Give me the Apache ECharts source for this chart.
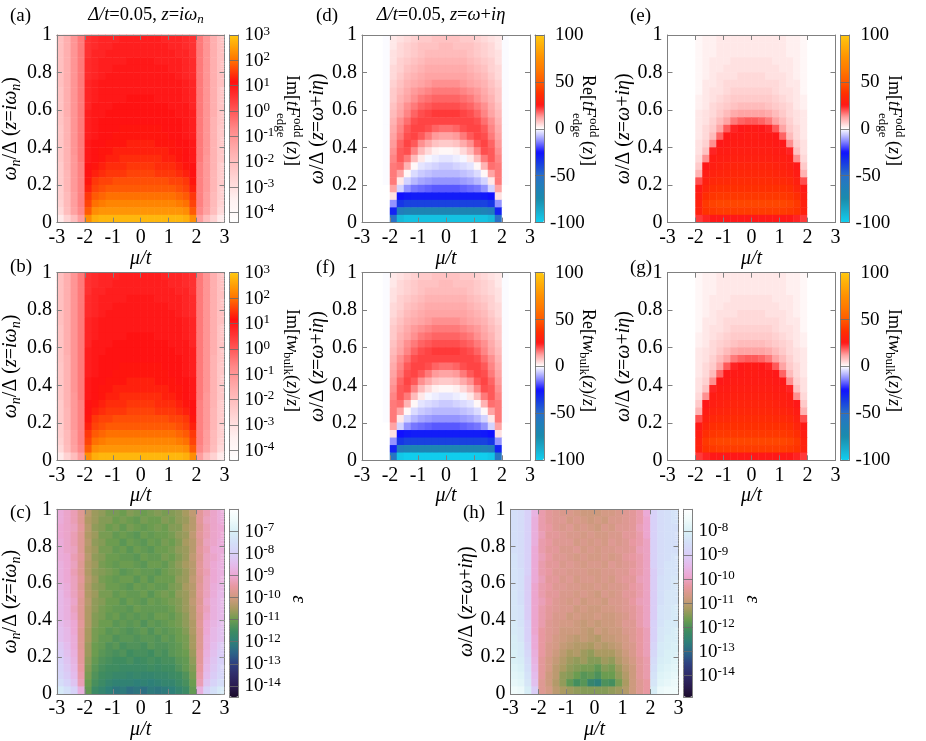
<!DOCTYPE html>
<html>
<head>
<meta charset="utf-8">
<title>chart</title>
<script src="https://cdn.jsdelivr.net/npm/echarts@6/dist/echarts.min.js"></script>
<style>
  html, body { margin: 0; padding: 0; background: #fff; }
  #main { width: 926px; height: 741px; }
</style>
</head>
<body>
<div id="main"></div>
<script>
// cell centres of the heatmaps
const muCells = [-2.875,-2.625,-2.375,-2.125,-1.875,-1.625,-1.375,-1.125,-0.875,-0.625,-0.375,-0.125,0.125,0.375,0.625,0.875,1.125,1.375,1.625,1.875,2.125,2.375,2.625,2.875]
const omegaCells = [0.02,0.06,0.10,0.14,0.18,0.22,0.26,0.30,0.34,0.38,0.42,0.46,0.50,0.54,0.58,0.62,0.66,0.70,0.74,0.78,0.82,0.86,0.90,0.94,0.98]

// every grid below is written top row (omega=0.98) first, like the picture
// (a) log10 Im[tF_edge]
const imFEdge = [
[-2.1,-1.6,-1,-.5,.6,.7,.8,.8,.8,.9,.9,.9,.9,.9,.9,.8,.8,.8,.7,.6,-.5,-1,-1.6,-2.1],
[-2.1,-1.6,-1,-.5,.6,.7,.8,.8,.9,.9,.9,.9,.9,.9,.9,.9,.8,.8,.7,.6,-.5,-1,-1.6,-2.1],
[-2.1,-1.6,-1,-.5,.6,.8,.8,.9,.9,.9,.9,.9,.9,.9,.9,.9,.9,.8,.8,.6,-.5,-1,-1.6,-2.1],
[-2.1,-1.6,-1,-.5,.7,.8,.9,.9,.9,.9,1,1,1,1,.9,.9,.9,.9,.8,.7,-.5,-1,-1.6,-2.1],
[-2.1,-1.6,-1,-.5,.7,.8,.9,.9,1,1,1,1,1,1,1,1,.9,.9,.8,.7,-.5,-1,-1.6,-2.1],
[-2.1,-1.6,-1,-.5,.7,.8,.9,1,1,1,1,1,1,1,1,1,1,.9,.8,.7,-.5,-1,-1.6,-2.1],
[-2.1,-1.6,-1,-.5,.8,.9,1,1,1,1,1,1,1,1,1,1,1,1,.9,.8,-.5,-1,-1.6,-2.1],
[-2.2,-1.6,-1,-.5,.8,.9,1,1,1,1,1,1,1,1,1,1,1,1,.9,.8,-.5,-1,-1.6,-2.2],
[-2.2,-1.6,-1,-.5,.8,.9,1,1,1,1,1.1,1.1,1.1,1.1,1,1,1,1,.9,.8,-.5,-1,-1.6,-2.2],
[-2.2,-1.6,-1,-.5,.8,1,1,1,1.1,1.1,1.1,1.1,1.1,1.1,1.1,1.1,1,1,1,.8,-.5,-1,-1.6,-2.2],
[-2.2,-1.6,-1,-.5,.9,1,1,1.1,1.1,1.1,1.1,1.1,1.1,1.1,1.1,1.1,1.1,1,1,.9,-.5,-1,-1.6,-2.2],
[-2.2,-1.7,-1,-.5,.9,1,1.1,1.1,1.1,1.1,1.1,1.1,1.1,1.1,1.1,1.1,1.1,1.1,1,.9,-.5,-1,-1.7,-2.2],
[-2.3,-1.7,-1,-.5,.9,1,1.1,1.1,1.1,1.2,1.2,1.2,1.2,1.2,1.2,1.1,1.1,1.1,1,.9,-.5,-1,-1.7,-2.3],
[-2.3,-1.7,-1,-.5,.9,1,1.1,1.1,1.2,1.2,1.2,1.2,1.2,1.2,1.2,1.2,1.1,1.1,1,.9,-.5,-1,-1.7,-2.3],
[-2.3,-1.7,-1,-.5,1,1.1,1.1,1.2,1.2,1.2,1.3,1.3,1.3,1.3,1.2,1.2,1.2,1.1,1.1,1,-.5,-1,-1.7,-2.3],
[-2.3,-1.7,-1,-.5,1,1.1,1.2,1.2,1.3,1.3,1.3,1.3,1.3,1.3,1.3,1.3,1.2,1.2,1.1,1,-.5,-1,-1.7,-2.3],
[-2.3,-1.7,-1.1,-.5,1,1.1,1.2,1.3,1.3,1.4,1.4,1.4,1.4,1.4,1.4,1.3,1.3,1.2,1.1,1,-.5,-1.1,-1.7,-2.3],
[-2.4,-1.7,-1.1,-.6,1.1,1.2,1.3,1.4,1.4,1.4,1.5,1.5,1.5,1.5,1.4,1.4,1.4,1.3,1.2,1.1,-.6,-1.1,-1.7,-2.4],
[-2.4,-1.8,-1.1,-.6,1.1,1.3,1.4,1.5,1.5,1.5,1.6,1.6,1.6,1.6,1.5,1.5,1.5,1.4,1.3,1.1,-.6,-1.1,-1.8,-2.4],
[-2.4,-1.8,-1.1,-.6,1.2,1.5,1.6,1.6,1.7,1.7,1.7,1.7,1.7,1.7,1.7,1.7,1.6,1.6,1.5,1.2,-.6,-1.1,-1.8,-2.4],
[-2.5,-1.8,-1.1,-.6,1.3,1.6,1.7,1.8,1.8,1.8,1.8,1.8,1.8,1.8,1.8,1.8,1.8,1.7,1.6,1.3,-.6,-1.1,-1.8,-2.5],
[-2.5,-1.9,-1.2,-.6,1.5,1.8,1.9,2,2,2,2,2,2,2,2,2,2,1.9,1.8,1.5,-.6,-1.2,-1.9,-2.5],
[-2.6,-1.9,-1.2,-.6,1.6,2,2.1,2.2,2.2,2.2,2.2,2.2,2.2,2.2,2.2,2.2,2.2,2.1,2,1.6,-.6,-1.2,-1.9,-2.6],
[-2.8,-2,-1.3,-.7,1.8,2.3,2.4,2.4,2.4,2.4,2.4,2.4,2.4,2.4,2.4,2.4,2.4,2.4,2.3,1.8,-.7,-1.3,-2,-2.8],
[-3.3,-2.6,-2,-1.2,2.3,2.7,2.8,2.8,2.8,2.8,2.8,2.8,2.8,2.8,2.8,2.8,2.8,2.8,2.7,2.3,-1.2,-2,-2.6,-3.3]
]
// (b) reads the same as (a) at this resolution
const imWBulk = imFEdge

// (d) Re[tF_edge]
const reFEdge = [
[0,0,0,-.5,3,4,5,6,7,7,8,8,8,8,7,7,6,5,4,3,-.5,0,0,0],
[0,0,0,-.5,3,5,6,7,8,8,8,9,9,8,8,8,7,6,5,3,-.5,0,0,0],
[0,0,0,-.5,4,5,6,7,8,9,9,9,9,9,9,8,7,6,5,4,-.5,0,0,0],
[0,0,0,-.5,4,6,7,8,9,10,10,10,10,10,10,9,8,7,6,4,-.5,0,0,0],
[0,0,0,-.5,5,6,8,9,10,11,11,11,11,11,11,10,9,8,6,5,-.5,0,0,0],
[0,0,0,-.5,5,7,9,10,11,12,12,12,12,12,12,11,10,9,7,5,-.5,0,0,0],
[0,0,0,-.5,6,8,10,11,12,13,14,14,14,14,13,12,11,10,8,6,-.5,0,0,0],
[0,0,0,-.5,7,9,11,13,14,15,16,16,16,16,15,14,13,11,9,7,-.5,0,0,0],
[0,0,0,-.5,7,10,12,14,16,17,18,18,18,18,17,16,14,12,10,7,-.5,0,0,0],
[0,0,0,-.5,8,11,14,16,18,19,20,20,20,20,19,18,16,14,11,8,-.5,0,0,0],
[0,0,0,-.5,9,12,15,18,20,21,22,22,22,22,21,20,18,15,12,9,-.5,0,0,0],
[0,0,0,-.5,10,14,17,20,21,21,21,21,21,21,21,21,20,17,14,10,-.5,0,0,0],
[0,0,0,-.5,11,15,19,21,21,20,18,17,17,18,20,21,21,19,15,11,-.5,0,0,0],
[0,0,0,-.5,12,16,20,21,19,16,13,12,12,13,16,19,21,20,16,12,-.5,0,0,0],
[0,0,0,-.5,13,18,21,19,14,11,8,7,7,8,11,14,19,21,18,13,-.5,0,0,0],
[0,0,0,-.5,14,19,20,15,9,5,2,1,1,2,5,9,15,20,19,14,-.5,0,0,0],
[0,0,0,-.5,15,19,16,9,3,-1,-2,-3,-3,-2,-1,3,9,16,19,15,-.5,0,0,0],
[0,0,0,-.5,16,17,10,1,-3,-4,-5,-6,-6,-5,-4,-3,1,10,17,16,-.5,0,0,0],
[0,0,0,-.5,16,12,1,-4,-6,-7,-8,-8,-8,-8,-7,-6,-4,1,12,16,-.5,0,0,0],
[0,0,0,-.5,16,3,-5,-8,-10,-11,-12,-12,-12,-12,-11,-10,-8,-5,3,16,-.5,0,0,0],
[0,0,0,0,12,-5,-12,-15,-16,-17,-18,-18,-18,-18,-17,-16,-15,-12,-5,12,0,0,0,0],
[0,0,0,0,4,-25,-27,-28,-28,-28,-28,-28,-28,-28,-28,-28,-28,-27,-25,4,0,0,0,0],
[0,0,0,0,-12,-35,-38,-38,-38,-38,-38,-38,-38,-38,-38,-38,-38,-38,-35,-12,0,0,0,0],
[0,0,0,0,-30,-60,-65,-68,-68,-68,-68,-68,-68,-68,-68,-68,-68,-65,-60,-30,0,0,0,0],
[0,0,0,0,-50,-92,-95,-95,-95,-95,-95,-95,-95,-95,-95,-95,-95,-95,-92,-50,0,0,0,0]
]
// (f) same as (d) except the lowest row, which runs a little further to cyan
const reWBulk = [...reFEdge.slice(0, 24), [0,0,0,0,-55,-97,-99,-99,-99,-99,-99,-99,-99,-99,-99,-99,-99,-99,-97,-55,0,0,0,0]]

// (e) Im[tF_edge]
const imFEdgeReal = [
[0,0,0,0,1,2,2,3,3,3,3,3,3,3,3,3,3,2,2,1,0,0,0,0],
[0,0,0,0,1,2,2,3,3,3,3,3,3,3,3,3,3,2,2,1,0,0,0,0],
[0,0,0,0,1,2,2,3,3,3,3,3,3,3,3,3,3,2,2,1,0,0,0,0],
[0,0,0,0,1,2,3,3,3,4,4,4,4,4,4,3,3,3,2,1,0,0,0,0],
[0,0,0,0,1,2,3,3,4,4,4,4,4,4,4,4,3,3,2,1,0,0,0,0],
[0,0,0,0,1,2,3,4,4,4,5,5,5,5,4,4,4,3,2,1,0,0,0,0],
[0,0,0,0,1,3,3,4,5,5,5,5,5,5,5,5,4,3,3,1,0,0,0,0],
[0,0,0,0,1,3,4,4,5,6,6,6,6,6,6,5,4,4,3,1,0,0,0,0],
[0,0,0,0,2,3,4,5,6,7,7,7,7,7,7,6,5,4,3,2,0,0,0,0],
[0,0,0,0,2,3,5,6,7,8,9,9,9,9,8,7,6,5,3,2,0,0,0,0],
[0,0,0,0,3,4,5,7,9,11,12,12,12,12,11,9,7,5,4,3,0,0,0,0],
[0,0,0,0,3,4,6,9,12,16,18,19,19,18,16,12,9,6,4,3,0,0,0,0],
[0,0,0,0,3,5,7,12,19,24,25,26,26,25,24,19,12,7,5,3,0,0,0,0],
[0,0,0,0,3,5,9,18,25,26,26,27,27,26,26,25,18,9,5,3,0,0,0,0],
[0,0,0,0,4,6,14,25,26,27,27,27,27,27,27,26,25,14,6,4,0,0,0,0],
[0,0,0,0,4,8,24,27,27,28,28,28,28,28,28,27,27,24,8,4,0,0,0,0],
[0,0,0,0,5,14,27,28,28,29,29,29,29,29,29,28,28,27,14,5,0,0,0,0],
[0,0,0,0,7,25,28,29,30,31,31,31,31,31,31,30,29,28,25,7,0,0,0,0],
[0,0,0,0,10,27,30,31,32,33,33,33,33,33,33,32,31,30,27,10,0,0,0,0],
[0,0,0,0,20,29,33,34,34,35,35,35,35,35,35,34,34,33,29,20,0,0,0,0],
[0,0,0,0,26,32,36,37,37,37,37,37,37,37,37,37,37,36,32,26,0,0,0,0],
[0,0,0,0,28,36,39,40,40,40,40,40,40,40,40,40,40,39,36,28,0,0,0,0],
[0,0,0,0,30,40,43,44,44,44,44,44,44,44,44,44,44,43,40,30,0,0,0,0],
[0,0,0,0,30,38,40,41,41,41,41,41,41,41,41,41,41,40,38,30,0,0,0,0],
[0,0,0,0,22,24,25,25,25,25,25,25,25,25,25,25,25,25,24,22,0,0,0,0]
]
// (g) reads the same as (e)
const imWBulkReal = imFEdgeReal

// (c) log10 of the error, z=i omega_n
const errMatsubara = [
[-8.9,-9.1,-9.3,-9.7,-10.3,-10.6,-10.7,-10.9,-10.9,-11,-10.8,-10.9,-11,-10.9,-10.8,-10.9,-10.8,-10.7,-10.5,-10.2,-9.6,-9.3,-9.1,-8.9],
[-8.9,-9.1,-9.3,-9.7,-10.4,-10.6,-10.8,-10.8,-11,-10.9,-11,-11.1,-10.9,-11,-11,-10.8,-10.9,-10.7,-10.6,-10.3,-9.6,-9.2,-9.1,-8.9],
[-9,-9.1,-9.2,-9.6,-10.3,-10.7,-10.8,-11,-10.9,-11.1,-10.9,-11,-11.1,-11,-10.9,-11,-10.8,-10.8,-10.5,-10.3,-9.7,-9.3,-9.1,-9],
[-9,-9.1,-9.3,-9.7,-10.4,-10.6,-10.9,-10.9,-11.1,-11,-11.1,-11.2,-11,-11.1,-11,-11,-10.9,-10.7,-10.6,-10.2,-9.6,-9.3,-9.1,-9],
[-8.9,-9.1,-9.3,-9.7,-10.3,-10.7,-10.8,-11,-11,-11.2,-11,-11.1,-11.2,-11,-11.1,-10.9,-11,-10.8,-10.5,-10.3,-9.7,-9.2,-9.1,-8.9],
[-8.9,-9.1,-9.2,-9.7,-10.4,-10.6,-10.9,-10.9,-11.1,-11,-11.2,-11,-11.1,-11.2,-11,-11,-10.9,-10.7,-10.6,-10.3,-9.6,-9.3,-9,-8.9],
[-8.9,-9,-9.3,-9.6,-10.3,-10.7,-10.8,-11,-11,-11.1,-11.1,-11.2,-11,-11.1,-11.1,-10.9,-11,-10.8,-10.6,-10.2,-9.7,-9.2,-9.1,-8.9],
[-8.8,-9,-9.2,-9.7,-10.4,-10.6,-10.9,-11,-11.1,-11,-11,-11.1,-11.2,-11,-11,-11.1,-10.9,-10.7,-10.5,-10.3,-9.6,-9.2,-9,-8.8],
[-8.8,-9,-9.3,-9.7,-10.4,-10.7,-10.8,-10.9,-11,-11.2,-11.1,-11,-11.1,-11.1,-11.2,-11,-10.9,-10.8,-10.6,-10.3,-9.6,-9.3,-9,-8.8],
[-8.8,-9,-9.2,-9.6,-10.3,-10.6,-10.9,-11,-11.1,-11,-11,-11.2,-11,-11.2,-11,-11,-11,-10.7,-10.6,-10.2,-9.7,-9.2,-9,-8.8],
[-8.7,-8.9,-9.2,-9.7,-10.4,-10.7,-10.8,-11,-11,-11.1,-11.2,-11,-11.1,-11,-11.1,-11.1,-10.9,-10.8,-10.5,-10.3,-9.6,-9.2,-8.9,-8.7],
[-8.6,-8.9,-9.2,-9.6,-10.4,-10.6,-10.9,-10.9,-11.1,-11,-11.1,-11.1,-11,-11.2,-11,-10.9,-11,-10.7,-10.6,-10.3,-9.6,-9.2,-8.9,-8.6],
[-8.6,-8.8,-9.1,-9.7,-10.3,-10.7,-10.8,-11,-11,-11.2,-11,-11.1,-11.2,-11,-11.1,-11,-10.9,-10.8,-10.6,-10.2,-9.7,-9.1,-8.8,-8.6],
[-8.6,-8.8,-9.2,-9.7,-10.4,-10.7,-10.9,-11,-11.1,-11.1,-11.2,-11,-11.1,-11.1,-11.1,-11.1,-11,-10.8,-10.6,-10.3,-9.6,-9.2,-8.8,-8.6],
[-8.6,-8.8,-9.1,-9.7,-10.4,-10.8,-10.9,-11.1,-11,-11.2,-11.1,-11.2,-11.1,-11.2,-11,-11,-11.1,-10.9,-10.7,-10.3,-9.7,-9.1,-8.8,-8.6],
[-8.5,-8.7,-9,-9.6,-10.4,-10.8,-11,-11,-11.2,-11.1,-11.2,-11.1,-11.3,-11.1,-11.2,-11.1,-11,-10.9,-10.7,-10.4,-9.6,-9,-8.7,-8.5],
[-8.4,-8.6,-9,-9.7,-10.5,-10.9,-11,-11.2,-11.1,-11.2,-11.3,-11.2,-11.1,-11.3,-11.1,-11.2,-11.1,-11,-10.8,-10.4,-9.7,-9,-8.6,-8.4],
[-8.4,-8.6,-8.9,-9.7,-10.5,-10.9,-11.1,-11.1,-11.3,-11.2,-11.2,-11.3,-11.2,-11.2,-11.3,-11.1,-11.2,-11,-10.9,-10.5,-9.7,-8.9,-8.6,-8.4],
[-8.2,-8.5,-8.9,-9.7,-10.6,-11,-11.1,-11.3,-11.2,-11.4,-11.3,-11.3,-11.4,-11.2,-11.3,-11.3,-11.2,-11.1,-10.9,-10.5,-9.7,-8.9,-8.5,-8.2],
[-8.1,-8.4,-8.8,-9.6,-10.6,-11,-11.2,-11.3,-11.4,-11.3,-11.5,-11.4,-11.4,-11.5,-11.3,-11.4,-11.2,-11.1,-11,-10.6,-9.6,-8.8,-8.4,-8.1],
[-8,-8.3,-8.7,-9.6,-10.7,-11.1,-11.3,-11.4,-11.5,-11.5,-11.4,-11.6,-11.5,-11.4,-11.5,-11.4,-11.4,-11.2,-11.1,-10.7,-9.6,-8.7,-8.3,-8],
[-7.9,-8.2,-8.6,-9.5,-10.8,-11.2,-11.4,-11.5,-11.5,-11.6,-11.6,-11.6,-11.6,-11.5,-11.6,-11.5,-11.5,-11.3,-11.1,-10.8,-9.5,-8.6,-8.2,-7.9],
[-7.8,-8.1,-8.5,-9.4,-10.9,-11.3,-11.5,-11.6,-11.7,-11.7,-11.8,-11.7,-11.8,-11.8,-11.7,-11.7,-11.6,-11.5,-11.3,-10.9,-9.4,-8.5,-8.1,-7.8],
[-7.6,-7.9,-8.3,-9.3,-11,-11.4,-11.6,-11.8,-11.9,-11.9,-11.9,-12,-11.9,-12,-11.9,-11.8,-11.8,-11.6,-11.4,-11,-9.3,-8.3,-7.9,-7.6],
[-7.2,-7.5,-7.9,-8.8,-11.1,-11.6,-11.8,-12,-12.2,-12.1,-12.3,-12.2,-12.3,-12.1,-12.2,-12.1,-12,-11.8,-11.6,-11.1,-8.8,-7.9,-7.5,-7.2]
]

// (h) log10 of the error, z=omega+i eta
const errReal = [
[-8.5,-8.6,-8.9,-9.6,-10.2,-10.4,-10.5,-10.6,-10.6,-10.7,-10.8,-10.8,-10.8,-10.7,-10.7,-10.6,-10.5,-10.4,-10.2,-9.8,-8.9,-8.6,-8.5,-8.4],
[-8.5,-8.6,-8.9,-9.7,-10.2,-10.4,-10.5,-10.5,-10.7,-10.6,-10.7,-10.8,-10.7,-10.8,-10.6,-10.6,-10.5,-10.4,-10.2,-9.9,-8.9,-8.6,-8.5,-8.4],
[-8.5,-8.6,-8.9,-9.7,-10.2,-10.3,-10.5,-10.6,-10.5,-10.7,-10.6,-10.7,-10.8,-10.6,-10.7,-10.5,-10.5,-10.4,-10.1,-9.9,-8.9,-8.6,-8.5,-8.5],
[-8.5,-8.6,-8.9,-9.7,-10.1,-10.4,-10.4,-10.5,-10.6,-10.6,-10.7,-10.6,-10.7,-10.7,-10.6,-10.6,-10.4,-10.4,-10.2,-9.9,-8.9,-8.6,-8.5,-8.5],
[-8.5,-8.6,-8.9,-9.7,-10.2,-10.3,-10.5,-10.5,-10.5,-10.7,-10.6,-10.7,-10.6,-10.7,-10.5,-10.6,-10.5,-10.3,-10.2,-10,-8.9,-8.6,-8.5,-8.5],
[-8.5,-8.6,-8.9,-9.8,-10.2,-10.4,-10.4,-10.6,-10.6,-10.5,-10.7,-10.6,-10.7,-10.6,-10.6,-10.5,-10.5,-10.4,-10.1,-10,-8.9,-8.6,-8.5,-8.5],
[-8.4,-8.6,-8.9,-9.8,-10.1,-10.3,-10.5,-10.5,-10.6,-10.7,-10.6,-10.7,-10.7,-10.6,-10.7,-10.6,-10.4,-10.3,-10.2,-10,-8.9,-8.6,-8.5,-8.4],
[-8.4,-8.6,-8.9,-9.8,-10.2,-10.4,-10.4,-10.6,-10.5,-10.6,-10.7,-10.6,-10.6,-10.7,-10.5,-10.6,-10.5,-10.4,-10.2,-10,-8.9,-8.6,-8.4,-8.4],
[-8.4,-8.5,-8.9,-9.8,-10.2,-10.3,-10.5,-10.5,-10.6,-10.6,-10.6,-10.7,-10.7,-10.6,-10.6,-10.5,-10.5,-10.3,-10.2,-10,-9,-8.6,-8.4,-8.4],
[-8.4,-8.5,-9,-9.8,-10.1,-10.4,-10.4,-10.6,-10.5,-10.7,-10.6,-10.6,-10.7,-10.6,-10.7,-10.5,-10.4,-10.4,-10.1,-10,-9,-8.5,-8.4,-8.3],
[-8.4,-8.5,-9,-9.9,-10.2,-10.3,-10.5,-10.5,-10.6,-10.6,-10.7,-10.7,-10.6,-10.7,-10.6,-10.6,-10.5,-10.3,-10.2,-10,-9,-8.5,-8.4,-8.3],
[-8.3,-8.5,-9,-9.9,-10.2,-10.4,-10.4,-10.6,-10.6,-10.7,-10.6,-10.7,-10.8,-10.6,-10.7,-10.6,-10.4,-10.4,-10.2,-10,-9,-8.5,-8.3,-8.3],
[-8.3,-8.5,-9,-9.9,-10.1,-10.3,-10.5,-10.6,-10.7,-10.6,-10.8,-10.7,-10.7,-10.8,-10.6,-10.6,-10.5,-10.3,-10.1,-10,-9,-8.5,-8.3,-8.3],
[-8.3,-8.4,-9,-9.9,-10.2,-10.4,-10.5,-10.6,-10.6,-10.8,-10.7,-10.8,-10.8,-10.7,-10.7,-10.6,-10.5,-10.4,-10.2,-10,-9,-8.4,-8.3,-8.2],
[-8.3,-8.4,-9,-9.9,-10.2,-10.4,-10.6,-10.6,-10.8,-10.7,-10.8,-10.8,-10.7,-10.8,-10.8,-10.7,-10.6,-10.4,-10.2,-10,-9,-8.4,-8.3,-8.2],
[-8.2,-8.4,-8.9,-9.9,-10.2,-10.5,-10.6,-10.7,-10.7,-10.8,-10.9,-10.8,-10.9,-10.8,-10.8,-10.7,-10.5,-10.5,-10.2,-10,-8.9,-8.4,-8.2,-8.2],
[-8.2,-8.3,-8.9,-9.9,-10.3,-10.5,-10.6,-10.8,-10.8,-10.8,-10.9,-11,-10.8,-10.9,-10.8,-10.8,-10.6,-10.5,-10.3,-10.1,-8.9,-8.3,-8.2,-8.1],
[-8.1,-8.3,-8.9,-9.8,-10.3,-10.5,-10.7,-10.8,-10.9,-11,-10.9,-11,-11.1,-10.9,-10.9,-10.8,-10.7,-10.5,-10.3,-10.1,-8.9,-8.3,-8.1,-8.1],
[-8.1,-8.2,-8.8,-9.8,-10.3,-10.6,-10.7,-10.9,-11,-11.1,-11.1,-11.2,-11,-11.1,-11,-10.9,-10.7,-10.6,-10.3,-10.1,-8.8,-8.2,-8.1,-8],
[-8,-8.2,-8.7,-9.7,-10.3,-10.6,-10.8,-11,-11.2,-11.1,-11.3,-11.4,-11.2,-11.2,-11.2,-11,-10.8,-10.6,-10.3,-10.1,-8.7,-8.2,-8,-8],
[-8,-8.1,-8.6,-9.6,-10.4,-10.7,-10.9,-11.1,-11.3,-11.4,-11.3,-11.5,-11.5,-11.3,-11.4,-11.1,-10.9,-10.7,-10.4,-10.2,-8.6,-8.1,-8,-7.9],
[-7.9,-8,-8.5,-9.5,-10.4,-10.7,-11,-11.2,-11.4,-11.5,-11.6,-11.6,-11.8,-11.5,-11.6,-11.3,-11,-10.8,-10.4,-10.2,-8.5,-8,-7.9,-7.8],
[-7.8,-7.9,-8.4,-9.4,-10.4,-10.8,-11,-11.4,-11.5,-11.7,-11.9,-11.8,-12,-11.7,-11.7,-11.4,-11.1,-10.8,-10.4,-10.2,-8.4,-7.9,-7.8,-7.7],
[-7.7,-7.8,-8.3,-9.3,-10.5,-10.8,-11.1,-11.4,-11.8,-12.1,-11.9,-12.4,-12.6,-12,-12.1,-11.6,-11.2,-10.8,-10.5,-10.3,-8.3,-7.8,-7.7,-7.6],
[-7.5,-7.6,-8.1,-9,-10.5,-10.7,-11,-11.2,-11.3,-11.4,-11.5,-11.5,-11.5,-11.5,-11.4,-11.3,-11.1,-10.8,-10.5,-10.3,-8.1,-7.6,-7.5,-7.5]
]

// tick labels
const muTicks = [-3,-2,-1,0,1,2,3]
const omegaTicks = [0,0.2,0.4,0.6,0.8,1]
const logTicksTop = [-4,-3,-2,-1,0,1,2,3]
const linTicks = [-100,-50,0,50,100]
const errTicksC = [-14,-13,-12,-11,-10,-9,-8,-7]
const errTicksH = [-14,-13,-12,-11,-10,-9,-8]

// gnuplot style palettes, evenly spaced stops
const palLog = ['#ffffff','#fff0f0','#ffd0d0','#ffb0b0','#ff8888','#ff4848','#ff0f0f','#ff7a00','#ffc810']
const palLin = ['#10d0f0','#1aaccc','#1a8cac','#2080b8','#2a70c8','#1840e0','#1010ff','#9090ff','#ffffff','#ffa0a0','#ff1818','#ff3000','#ff5a00','#ff7800','#ff9000','#ffac08','#ffc810']
const palErr = ['#1c0c2c','#2a1c50','#302c68','#2f4080','#2c6488','#2e8078','#3f8c60','#6c9c50','#a89a60','#d09a80','#e898a0','#eca8d4','#e4bcec','#d8d0f8','#d4e0f8','#d8f0f6','#eefafa','#ffffff']

const FONT = 'Liberation Serif'
const GRAY = '#808080'
const PW = 168, PH = 187.6, BW = 9

function richSet(big, small, lh) {
  const t = (size, extra) => Object.assign({ fontFamily: FONT, fontSize: size, color: '#000', lineHeight: lh }, extra)
  return {
    r: t(big), i: t(big, { fontStyle: 'italic' }),
    s: t(small, { fontStyle: 'italic', verticalAlign: 'bottom' }),
    n: t(small, { verticalAlign: 'bottom' }),
    u: t(small, { verticalAlign: 'top' })
  }
}
const richAxis = richSet(20, 14, 24)
const richTitle = richSet(18.5, 13, 22)
const richSide = richSet(18, 13, 22)
const richBox = {
  b: { fontFamily: FONT, fontSize: 19, color: '#000', lineHeight: 20, verticalAlign: 'bottom' },
  u: { fontFamily: FONT, fontSize: 13, color: '#000', lineHeight: 20, verticalAlign: 'top' },
  p: { fontFamily: FONT, fontSize: 19, color: '#000', padding: [0, 0, 0, 5] }
}
const LABEL_MATS = '{i|ω}{s|n}{r|/Δ (}{i|z}{r|=}{i|iω}{s|n}{r|)}'
const LABEL_REAL = '{i|ω}{r|/Δ (}{i|z}{r|=}{i|ω}{r|+}{i|iη}{r|)}'
const decade = v => `{b|10}{u|${v}}`
const plain = v => v < 0 ? String(v) : `{p|${v}}`

// one entry per panel
const panels = [
  { tag: '(a)', x: 56.5, y: 35, tagX: 10, tagY: 16, yGap: 32, grid: imFEdge, pal: palLog, range: [-4.4, 3], ticks: logTicksTop, fmt: decade, log: true, ylab: LABEL_MATS, right: ['Im[', 'F'] },
  { tag: '(b)', x: 56.5, y: 272.7, tagX: 10, tagY: 267, yGap: 32, grid: imWBulk, pal: palLog, range: [-4.4, 3], ticks: logTicksTop, fmt: decade, log: true, ylab: LABEL_MATS, right: ['Im[', 'w'] },
  { tag: '(c)', x: 56.5, y: 509.3, tagX: 10, tagY: 513, yGap: 32, grid: errMatsubara, pal: palErr, range: [-14.5, -6], ticks: errTicksC, fmt: decade, log: true, ylab: LABEL_MATS, eps: true },
  { tag: '(d)', x: 362, y: 35, tagX: 316, tagY: 16, yGap: 27, grid: reFEdge, pal: palLin, range: [-100, 100], ticks: linTicks, fmt: plain, ylab: LABEL_REAL, right: ['Re[', 'F'] },
  { tag: '(e)', x: 667.5, y: 35, tagX: 630, tagY: 16, yGap: 24, grid: imFEdgeReal, pal: palLin, range: [-100, 100], ticks: linTicks, fmt: plain, ylab: LABEL_REAL, right: ['Im[', 'F'] },
  { tag: '(f)', x: 362, y: 272.7, tagX: 316, tagY: 268, yGap: 27, grid: reWBulk, pal: palLin, range: [-100, 100], ticks: linTicks, fmt: plain, ylab: LABEL_REAL, right: ['Re[', 'w'] },
  { tag: '(g)', x: 667.5, y: 272.7, tagX: 630, tagY: 268, yGap: 24, grid: imWBulkReal, pal: palLin, range: [-100, 100], ticks: linTicks, fmt: plain, ylab: LABEL_REAL, right: ['Im[', 'w'] },
  { tag: '(h)', x: 510.5, y: 509.3, tagX: 463, tagY: 513, yGap: 30, grid: errReal, pal: palErr, range: [-14.9, -7.1], ticks: errTicksH, fmt: decade, log: true, ylab: LABEL_REAL, eps: true }
]

const grids = [], xAxes = [], yAxes = [], series = [], visualMaps = [], elements = []
const lineStyle = { color: GRAY, width: 1 }
const frameLine = { show: true, onZero: false, lineStyle }

function addText(left, top, text, rich, extra) {
  elements.push(Object.assign({
    type: 'text', x: left, y: top, z: 20,
    style: Object.assign({ text: text, rich: rich, fontFamily: FONT, fontSize: 18, fill: '#000', verticalAlign: 'middle' }, extra && extra.style)
  }, extra && extra.el))
}

panels.forEach(p => {
  const g = grids.length
  grids.push({ left: p.x, top: p.y, width: PW, height: PH })
  // hidden category axes carry the cells
  xAxes.push({ gridIndex: g, type: 'category', data: muCells, show: false })
  yAxes.push({ gridIndex: g, type: 'category', data: omegaCells, show: false })
  const xCat = xAxes.length - 1, yCat = yAxes.length - 1
  // visible value axes on all four sides, ticks inside
  xAxes.push({
    gridIndex: g, type: 'value', position: 'bottom', min: -3, max: 3, interval: 1, z: 5,
    axisLine: frameLine, axisTick: { show: true, inside: true, length: 5, lineStyle },
    splitLine: { show: false },
    axisLabel: { show: true, margin: 5, fontFamily: FONT, fontSize: 20, color: '#000', customValues: muTicks },
    name: '{i|μ/t}', nameLocation: 'middle', nameGap: 20, nameTextStyle: { rich: richAxis }
  })
  xAxes.push({
    gridIndex: g, type: 'value', position: 'top', min: -3, max: 3, interval: 1, z: 5,
    axisLine: frameLine, axisTick: { show: true, inside: true, length: 5, lineStyle },
    splitLine: { show: false }, axisLabel: { show: false }
  })
  yAxes.push({
    gridIndex: g, type: 'value', position: 'left', min: 0, max: 1, interval: 0.2, z: 5,
    axisLine: frameLine, axisTick: { show: true, inside: true, length: 5, lineStyle },
    splitLine: { show: false },
    axisLabel: { show: true, margin: 5, fontFamily: FONT, fontSize: 20, color: '#000', customValues: omegaTicks },
    name: p.ylab, nameLocation: 'middle', nameGap: p.yGap, nameRotate: 90, nameTextStyle: { rich: richAxis }
  })
  yAxes.push({
    gridIndex: g, type: 'value', position: 'right', min: 0, max: 1, interval: 0.2, z: 5,
    axisLine: frameLine, axisTick: { show: true, inside: true, length: 5, lineStyle },
    splitLine: { show: false }, axisLabel: { show: false }
  })

  const data = []
  p.grid.forEach((row, r) => row.forEach((v, c) => data.push([c, omegaCells.length - 1 - r, v])))
  series.push({
    type: 'heatmap', xAxisIndex: xCat, yAxisIndex: yCat, data,
    progressive: 0, silent: true, itemStyle: { borderWidth: 0 }, emphasis: { disabled: true }
  })

  // colour box: visualMap bar plus its own little grid for the ticks
  const bx = p.x + PW + 5
  visualMaps.push({
    type: 'continuous', seriesIndex: series.length - 1, min: p.range[0], max: p.range[1],
    left: bx, top: p.y, itemWidth: BW, itemHeight: PH, padding: 0, text: null, calculable: false,
    hoverLink: false, inRange: { color: p.pal }, z: 4
  })
  const gb = grids.length
  grids.push({ left: bx, top: p.y, width: BW, height: PH })
  const boxAxis = pos => ({
    gridIndex: gb, type: 'value', position: pos, min: 0, max: 1, z: 6, interval: 1,
    axisLine: frameLine, axisTick: { show: false }, axisLabel: { show: false }, splitLine: { show: false }
  })
  xAxes.push(boxAxis('bottom'), boxAxis('top'))
  const yBox = pos => ({
    gridIndex: gb, type: 'value', position: pos, min: p.range[0], max: p.range[1], z: 6,
    axisLine: frameLine, splitLine: { show: false }, axisLabel: { show: false }, axisTick: { show: false }
  })
  yAxes.push(yBox('left'))
  yAxes.push(Object.assign(yBox('right'), {
    axisTick: { show: true, inside: true, length: BW, lineStyle: { color: '#6a6a6a', width: 1, opacity: 0.8 }, customValues: p.ticks },
    axisLabel: {
      show: true, inside: false, margin: 6, customValues: p.ticks, formatter: p.fmt,
      fontFamily: FONT, fontSize: 19, color: '#000', rich: richBox
    }
  }))
  if (p.log) {
    // faint log minor ticks inside each decade
    const minor = []
    for (let d = Math.floor(p.range[0]); d < p.range[1]; d++) {
      [2, 3, 4, 5, 6, 7, 8, 9].forEach(m => {
        const v = d + Math.log10(m)
        if (v > p.range[0] && v < p.range[1]) minor.push(v)
      })
    }
    yAxes.push(Object.assign(yBox('right'), {
      axisLine: { show: false },
      axisTick: { show: true, inside: true, length: BW, lineStyle: { color: '#ffffff', width: 1, opacity: 0.18 }, customValues: minor }
    }))
  }

  elements.push({ type: 'text', x: p.tagX, y: p.tagY, z: 20, style: { text: p.tag, fontFamily: FONT, fontSize: 19, fill: '#000', verticalAlign: 'middle' } })

  // rotated label on the right of the colour box
  const rx = bx + BW + (p.log ? 53 : 44), cw = { rotation: -Math.PI / 2 }
  if (p.eps) {
    const ex = p.x === 56.5 ? 298 : 752
    addText(ex, p.y + PH / 2 - 4, '{i|ε}', richAxis, { el: cw, style: { align: 'center' } })
  } else if (p.right && p.right[1] === 'F') {
    const top = p.y + 40
    addText(rx, top, `{r|${p.right[0]}}{i|tF}`, richSide, { el: cw })
    addText(rx + 10, top + 43, '{n|odd}', richSide, { el: cw })
    addText(rx - 7, top + 38, '{n|edge}', richSide, { el: cw })
    addText(rx, top + 66, '{r|(}{i|z}{r|)]}', richSide, { el: cw })
  } else if (p.right) {
    addText(rx, p.y + PH / 2 - 6, `{r|${p.right[0]}}{i|tw}{n|bulk}{r|(}{i|z}{r|)/}{i|z}{r|]}`, richSide, { el: cw, style: { align: 'center' } })
  }
})

// titles over the first row
addText(146, 15, '{i|Δ/t}{r|=0.05, }{i|z}{r|=}{i|iω}{s|n}', richTitle, { style: { align: 'center' } })
addText(441, 15, '{i|Δ/t}{r|=0.05, }{i|z}{r|=}{i|ω}{r|+}{i|iη}', richTitle, { style: { align: 'center' } })

const chart = echarts.init(document.getElementById('main'), null, { renderer: 'canvas' })
chart.setOption({
  animation: false,
  backgroundColor: '#fff',
  tooltip: { show: false },
  grid: grids,
  xAxis: xAxes,
  yAxis: yAxes,
  visualMap: visualMaps,
  series: series,
  graphic: { elements: elements }
})
</script>
</body>
</html>
